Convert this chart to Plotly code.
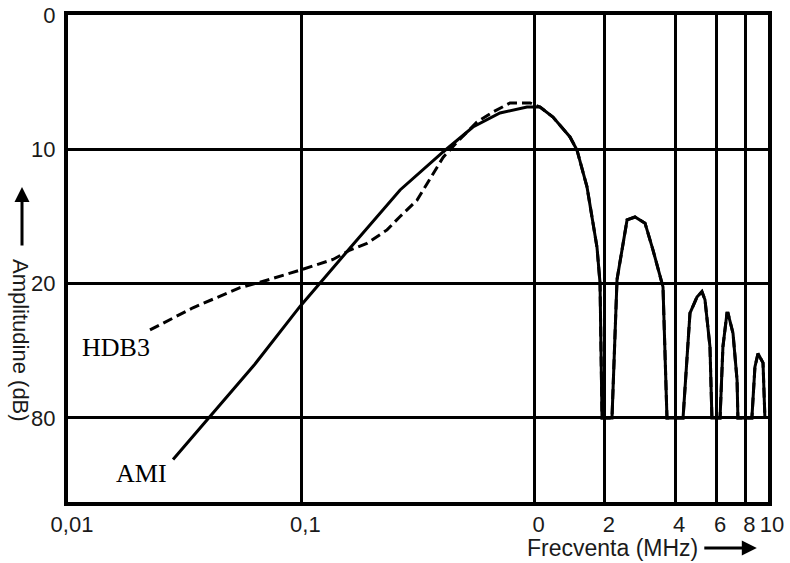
import plotly.graph_objects as go

# ---- data ----
ami_freq = [0.0282, 0.0406, 0.0632, 0.0987, 0.120, 0.1617, 0.265, 0.405, 0.544, 0.710, 0.927, 1.054,
            1.198, 1.417, 1.518, 1.676, 1.85, 1.906, 1.944,
            2.145, 2.254, 2.489, 2.692, 2.972, 3.215, 3.548, 3.69,
            4.325, 4.63, 4.96, 5.21, 5.37, 5.64, 5.75,
            6.23, 6.41, 6.67, 6.74, 7.08, 7.37, 7.43,
            8.53, 8.79, 9.06, 9.52, 9.70]
ami_db = [33.1, 29.9, 26.0, 21.7, 19.96, 17.35, 13.03, 10.2, 8.34, 7.30, 6.85, 6.85,
          7.6, 9.08, 10.05, 12.8, 17.3, 19.96, 30.0,
          30.0, 19.7, 15.26, 15.04, 15.5, 17.5, 20.25, 30.0,
          30.0, 22.2, 21.0, 20.6, 21.2, 24.7, 30.0,
          30.0, 24.7, 22.2, 22.2, 23.7, 27.2, 30.0,
          30.0, 26.2, 25.2, 25.9, 30.0]

hdb3_freq = [0.02246, 0.0343, 0.0546, 0.0665, 0.0987, 0.1367, 0.1617, 0.191, 0.233, 0.265, 0.313,
             0.367, 0.405, 0.465, 0.566, 0.663, 0.784, 0.955, 1.054,
             1.198, 1.417, 1.518, 1.676, 1.85, 1.906, 1.944,
             2.145, 2.254, 2.489, 2.692, 2.972, 3.215, 3.548, 3.69,
             4.325, 4.63, 4.96, 5.21, 5.37, 5.64, 5.75,
             6.23, 6.41, 6.67, 6.74, 7.08, 7.37, 7.43,
             8.53, 8.79, 9.06, 9.52, 9.70]
hdb3_db = [23.45, 21.8, 20.3, 19.9, 19.0, 18.2, 17.5, 17.0, 16.0, 15.0, 13.8,
           11.8, 10.6, 9.46, 7.97, 7.22, 6.55, 6.55, 6.85,
           7.6, 9.08, 10.05, 12.8, 17.3, 19.96, 30.0,
           30.0, 19.7, 15.26, 15.04, 15.5, 17.5, 20.25, 30.0,
           30.0, 22.2, 21.0, 20.6, 21.2, 24.7, 30.0,
           30.0, 24.7, 22.2, 22.2, 23.7, 27.2, 30.0,
           30.0, 26.2, 25.2, 25.9, 30.0]

x_tickvals = [0.01, 0.1, 1, 2, 4, 6, 8, 10]
x_ticktext = ["0,01", "0,1", "0", "2", "4", "6", "8", "10"]
y_tickvals = [0, 10, 20, 30]
y_ticktext = ["0", "10", "20", "80"]

SANS = "Liberation Sans Narrow, Liberation Sans, Arial, sans-serif"
SERIF = "Liberation Serif, Times New Roman, serif"

fig = go.Figure()
fig.add_trace(go.Scatter(x=hdb3_freq, y=hdb3_db, mode="lines", name="HDB3",
                         line=dict(color="black", width=3, dash="10px,5px")))
fig.add_trace(go.Scatter(x=ami_freq, y=ami_db, mode="lines", name="AMI",
                         line=dict(color="black", width=3)))

fig.update_layout(
    width=790, height=563,
    margin=dict(l=68, r=22, t=15, b=61, autoexpand=False),
    paper_bgcolor="white", plot_bgcolor="white",
    showlegend=False,
    font=dict(family=SANS, size=22, color="#1a1a1a"),
)
fig.update_xaxes(type="log", range=[-2, 1], tickvals=x_tickvals, ticktext=x_ticktext,
                 showgrid=True, gridcolor="black", gridwidth=3, automargin=False,
                 showline=True, linecolor="black", linewidth=4, mirror=True,
                 ticks="", zeroline=False, ticklabelshift=4,
                 tickfont=dict(family=SANS, size=22, color="#1a1a1a"))
fig.update_yaxes(range=[36.26, 0], tickvals=y_tickvals, ticktext=y_ticktext,
                 showgrid=True, gridcolor="black", gridwidth=3, automargin=False,
                 showline=True, linecolor="black", linewidth=4, mirror=True,
                 ticks="", zeroline=False, ticklabelstandoff=4,
                 tickfont=dict(family=SANS, size=22, color="#1a1a1a"))

annotations = [
    dict(text="Amplitudine (dB)", textangle=90, xref="paper", yref="paper",
         x=-0.0671, y=0.3326, showarrow=False, xanchor="center", yanchor="middle",
         font=dict(family=SANS, size=22, color="#1a1a1a")),
    dict(text="", xref="paper", yref="paper", x=-0.0657, y=0.6468,
         showarrow=True, ax=0, ay=60, arrowhead=2, arrowsize=1, arrowwidth=3, arrowcolor="black"),
    dict(text="Frecventa (MHz)", xref="paper", yref="paper", x=0.653, y=-0.0945,
         showarrow=False, xanchor="left", yanchor="middle",
         font=dict(family=SANS, size=23, color="#1a1a1a")),
    dict(text="", xref="paper", yref="paper", x=0.984, y=-0.0945,
         showarrow=True, ax=-54, ay=0, arrowhead=2, arrowsize=1, arrowwidth=3, arrowcolor="black"),
    dict(text="HDB3", xref="paper", yref="paper", x=0.0679, y=0.318, showarrow=False,
         xanchor="center", yanchor="middle", font=dict(family=SERIF, size=26, color="black")),
    dict(text="AMI", xref="paper", yref="paper", x=0.1057, y=0.0575, showarrow=False,
         xanchor="center", yanchor="middle", font=dict(family=SERIF, size=26, color="black")),
]
fig.update_layout(annotations=annotations)

fig.write_html("out.html", config={"displayModeBar": False},
               post_script="document.body.style.margin='0';document.body.style.padding='0';"
                           "document.body.style.overflow='hidden';")
